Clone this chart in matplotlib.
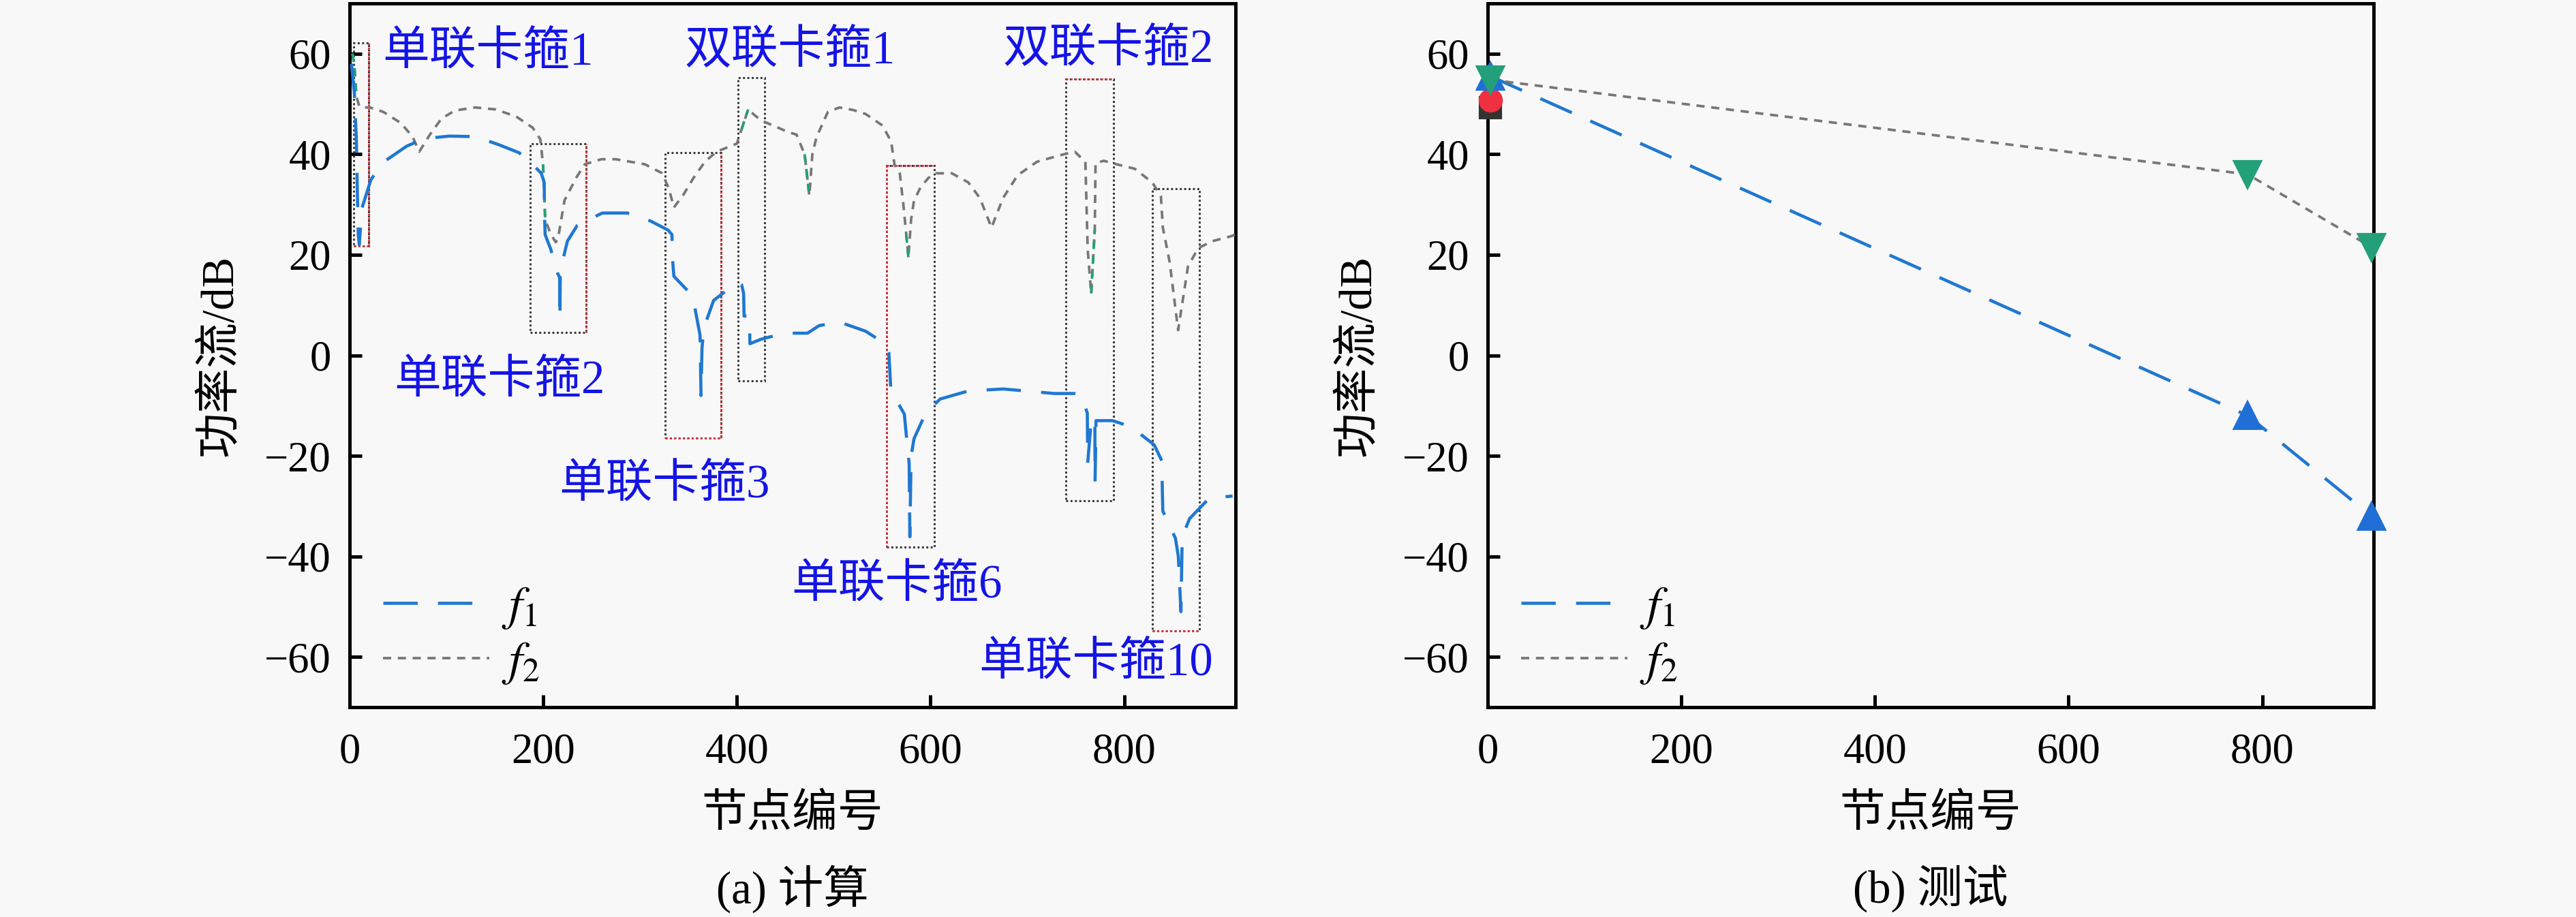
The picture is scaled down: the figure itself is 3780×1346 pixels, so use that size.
import numpy as np
import matplotlib
matplotlib.use('Agg')
import matplotlib.pyplot as plt
from matplotlib.patches import Rectangle

plt.rcParams['font.family'] = ['Liberation Serif', 'Noto Sans CJK SC']
plt.rcParams['mathtext.fontset'] = 'stix'

# ---- (a) calculated power flow along the pipe nodes ----
f1_x = [2, 5, 7, 8, 9, 10, 12, 13, 22, 34, 59, 77, 103, 130, 154, 175, 189, 198,
        201, 201.5, 202, 208, 213, 217, 217.3, 217.6, 221, 225, 235, 261, 287, 311,
        329, 333, 333.5, 335, 352, 357, 362, 363, 364, 366, 376, 400, 405, 407,
        407.5, 413, 413.5, 425, 435, 456, 473, 485, 506, 533, 553, 557, 558, 559,
        565, 573, 575, 578, 578.7, 580, 583, 595, 610, 639, 675, 728, 749, 755, 758,
        762, 762.4, 766, 769.8, 770, 771, 788, 807, 831, 839, 839.5, 840, 853, 856,
        858.7, 860, 867.6, 888, 912]
f1_y = [58, 52, 43, 33, 24, 22, 27, 29.4, 34.9, 38.3, 41.6, 43.1, 43.6, 43.5, 41.9,
        40.3, 38, 36.2, 34.4, 27.2, 24, 21, 17, 15.5, 7.3, 15.5, 19.5, 22.7, 25.8,
        28.3, 28.3, 26.7, 24.9, 24, 19.3, 15.7, 12.3, 9.1, 4, -8, 1.4, 5.5, 10.9,
        14.5, 14, 12.3, 7.8, 7.8, 2.3, 3.2, 3.7, 4.4, 4.4, 5.9, 6.6, 4.8, 2.3, 0.5,
        -3, -6.7, -9, -11.7, -15.8, -21.6, -36.1, -20, -16.6, -11.5, -8.7, -7.1,
        -6.7, -7.6, -7.6, -7.8, -9.2, -11.5, -21.4, -13, -12.6, -25.1, -13, -13,
        -14.2, -17.8, -21, -27, -31, -36.4, -40, -51, -36.1, -32.5, -28.4, -28]

f2_x = [3, 5, 7, 10, 15, 21, 35, 53, 65, 72, 83, 95, 109, 130, 151, 172, 189, 197,
        199.8, 201, 202, 208, 213, 215, 216, 222, 234, 243, 260, 275, 305, 323, 330,
        335, 345, 355, 367, 379, 400, 405, 411.7, 420, 426.5, 440, 453, 461.6, 470,
        474.9, 478, 482.3, 494, 506, 520, 533, 550.5, 559.4, 562.8, 568.3, 572, 575,
        577.2, 580, 583, 590, 598, 606, 622, 639, 651, 663, 675, 690, 710, 734, 749,
        760, 762.4, 766, 769.7, 770.5, 779, 788, 811, 829, 838, 840, 847, 855.8, 866,
        876.5, 891, 909, 915]
f2_y = [60, 57.5, 51.6, 49.5, 49.3, 49.3, 48.4, 46.2, 43.5, 40.5, 43.9, 47.1, 48.7,
        49.3, 48.9, 47.5, 45.3, 43, 38, 33, 27, 24, 22.5, 23.1, 24, 30.8, 35.3, 38,
        39, 39, 38, 36.2, 33, 29.4, 32, 35.2, 38.5, 40.5, 42.1, 45, 48.9, 47.5, 46.6,
        45.5, 44.4, 43.9, 40, 31.7, 40, 43.4, 48.4, 49.3, 48.8, 48, 45.7, 42.5, 38,
        36.2, 30, 24, 19.5, 27, 30.8, 33.5, 35.3, 36.2, 36.2, 34.4, 31.3, 25.4, 31.3,
        35.8, 38.5, 39.8, 40.5, 38.5, 21, 12.3, 25, 38.2, 38.7, 38.2, 37.1, 34.4,
        31.7, 25.4, 18.6, 5, 17.7, 21.3, 22.7, 23.6, 24]

# node ranges where f2 is drawn green
green_spans = [(3, 7), (199.8, 202), (405, 411.7), (470, 474.9), (575, 577.2), (766, 769.7)]

# clamp regions: x0, x1, y0, y1
clamp_x0 = [4.2, 186.5, 325.8, 401.3, 554.9, 740.1, 829.1]
clamp_x1 = [19.6, 244.2, 383.6, 428.9, 603.8, 789.1, 878.0]
clamp_y0 = [21.8, 4.6, -16.4, -5.1, -38.1, -28.9, -54.8]
clamp_y1 = [62.2, 42.1, 40.3, 55.2, 37.8, 55.0, 33.1]
clamp_red = [('right', 'bottom'), ('right',), ('right', 'bottom'), (), ('top', 'left'),
             ('top',), ('bottom',)]

label_text = ['单联卡箍1', '双联卡箍1', '双联卡箍2', '单联卡箍2', '单联卡箍3', '单联卡箍6', '单联卡箍10']
label_x = [34, 346, 675, 46, 216, 456, 650]
label_y = [60, 60.3, 60.5, -5.3, -26.1, -46, -61.4]

# ---- (b) measured ----
test_x = [3, 785, 913]
test_f1 = [55.5, -12, -32]
test_f2 = [54.8, 36, 21.5]
test_red = 50.7
test_black = 49.3

C_F1 = '#1f78d2'
C_F2 = '#777777'
C_GREEN = '#23a07a'
C_LABEL = '#1414e6'
BG = '#f8f8f8'

fig = plt.figure(figsize=(12.6, 4.4867), dpi=300, facecolor=BG)
ax1 = fig.add_axes([0.1357, 0.2288, 0.3439, 0.7675])
ax2 = fig.add_axes([0.5775, 0.2288, 0.3439, 0.7675])


def style_axes(ax):
    ax.set_facecolor(BG)
    ax.set_xlim(0, 915)
    ax.set_ylim(-70, 70)
    ax.set_xticks([0, 200, 400, 600, 800])
    ax.set_yticks([-60, -40, -20, 0, 20, 40, 60])
    for s in ax.spines.values():
        s.set_linewidth(1.2)
    ax.tick_params(direction='in', length=4.3, width=1.2, labelsize=15,
                   top=False, right=False)
    ax.tick_params(axis='x', pad=9)
    ax.tick_params(axis='y', pad=6.5)
    ax.set_ylabel('功率流/dB', fontsize=16)
    ax.yaxis.set_label_coords(-0.122, 0.5)
    ax.set_xlabel('节点编号', fontsize=16)
    ax.xaxis.set_label_coords(0.5, -0.153)
    ax.xaxis.label.set_va('center')


def legend(ax, h1, h2):
    ax.legend([h1, h2], ['$f_1$', '$f_2$'], loc='lower left',
              bbox_to_anchor=(0.038, 0.03), frameon=False, fontsize=17,
              handlelength=2.2, handletextpad=0.25, labelspacing=0.2,
              borderpad=0, borderaxespad=0)


# (a)
style_axes(ax1)
for x0, x1, y0, y1, red in zip(clamp_x0, clamp_x1, clamp_y0, clamp_y1, clamp_red):
    ax1.add_patch(Rectangle((x0, y0), x1 - x0, y1 - y0, fill=False, ls=(0, (1, 1.2)),
                            lw=0.7, ec='#333333', zorder=2))
    sides = {'right': ([x1, x1], [y0, y1]), 'left': ([x0, x0], [y0, y1]),
             'top': ([x0, x1], [y1, y1]), 'bottom': ([x0, x1], [y0, y0])}
    for s in red:
        ax1.plot(*sides[s], ls=(0, (1, 1.2)), lw=0.7, color='#e0303a', zorder=2)

h2, = ax1.plot(f2_x, f2_y, color=C_F2, lw=0.9, dashes=(3.2, 2.6), zorder=3)
f2x = np.array(f2_x)
f2y = np.array(f2_y)
for a, b in green_spans:
    m = (f2x >= a) & (f2x <= b)
    ax1.plot(f2x[m], f2y[m], color=C_GREEN, lw=0.9, dashes=(3.2, 2.6), zorder=4)
h1, = ax1.plot(f1_x, f1_y, color=C_F1, lw=1.1, dashes=(11, 6.5), zorder=5)

for t, x, y in zip(label_text, label_x, label_y):
    ax1.text(x, y, t, color=C_LABEL, fontsize=16.5, ha='left', va='center', zorder=6)
legend(ax1, h1, h2)

# (b)
style_axes(ax2)
g1, = ax2.plot(test_x, test_f1, color=C_F1, lw=1.1, dashes=(11, 6.5), zorder=3)
g2, = ax2.plot(test_x, test_f2, color=C_F2, lw=0.9, dashes=(3.2, 2.6), zorder=3)
ax2.plot(test_x[0], test_black, marker='s', ms=7, color='#333333', ls='none',
         clip_on=False, zorder=4)
ax2.plot(test_x[0], test_red, marker='o', ms=7.5, color='#f03040', ls='none',
         clip_on=False, zorder=5)
ax2.plot(test_x, test_f1, marker='^', ms=9, color='#1f6fd6', ls='none',
         clip_on=False, zorder=6)
ax2.plot(test_x, test_f2, marker='v', ms=9, color=C_GREEN, ls='none',
         clip_on=False, zorder=7)
legend(ax2, g1, g2)

fig.text(0.1357 + 0.3439 / 2, 1 - 1305 / 1346, '(a) 计算', ha='center', va='center',
         fontsize=16)
fig.text(0.5775 + 0.3439 / 2, 1 - 1305 / 1346, '(b) 测试', ha='center', va='center',
         fontsize=16)

fig.savefig('out.png', dpi=300, facecolor=BG)
